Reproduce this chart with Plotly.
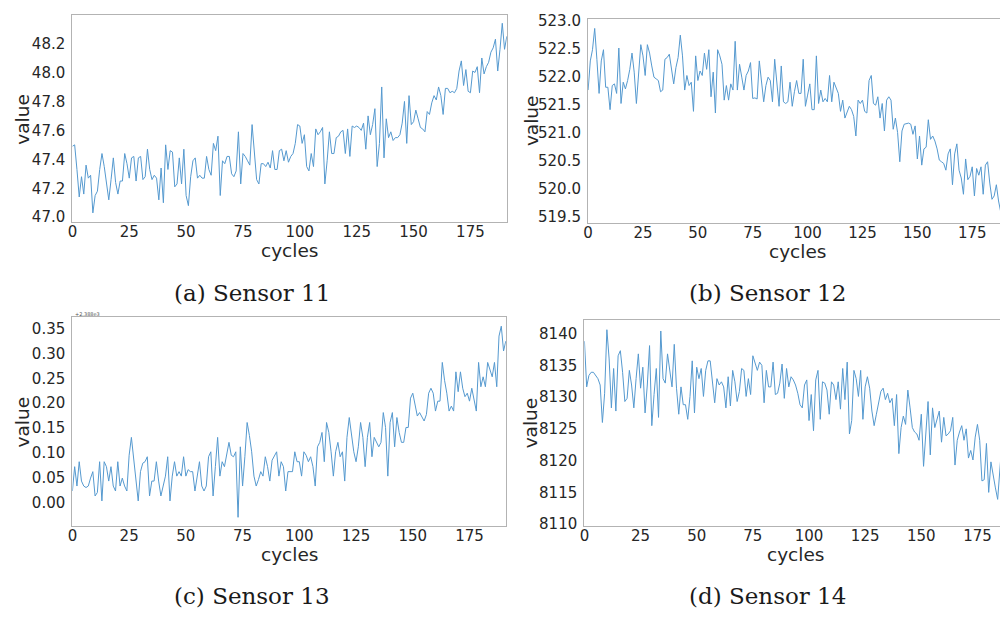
import plotly.graph_objects as go

# The page body has an 8px margin; the figure is sized so it fills the
# 1008x621 window exactly from (8, 8).
OFF = 8
W, H = 1008 - OFF, 621 - OFF

# ---------------- data ----------------
sensor11 = [
    47.49, 47.50, 47.33, 47.14, 47.28, 47.16, 47.36, 47.27, 47.29, 47.03,
    47.15, 47.18, 47.33, 47.44, 47.35, 47.24, 47.12, 47.26, 47.41, 47.24,
    47.16, 47.25, 47.25, 47.44, 47.37, 47.27, 47.41, 47.42, 47.25, 47.41,
    47.42, 47.26, 47.28, 47.47, 47.33, 47.26, 47.29, 47.27, 47.12, 47.34,
    47.10, 47.50, 47.33, 47.46, 47.45, 47.21, 47.23, 47.41, 47.23, 47.47,
    47.15, 47.08, 47.28, 47.39, 47.41, 47.27, 47.29, 47.27, 47.27, 47.42,
    47.33, 47.29, 47.51, 47.46, 47.56, 47.15, 47.39, 47.37, 47.42, 47.42,
    47.30, 47.28, 47.32, 47.59, 47.23, 47.44, 47.42, 47.39, 47.36, 47.64,
    47.46, 47.26, 47.23, 47.37, 47.37, 47.35, 47.38, 47.34, 47.46, 47.33,
    47.33, 47.46, 47.47, 47.39, 47.46, 47.38, 47.42, 47.44, 47.51, 47.64,
    47.63, 47.51, 47.57, 47.35, 47.32, 47.44, 47.35, 47.61, 47.57, 47.59,
    47.62, 47.23, 47.39, 47.59, 47.44, 47.44, 47.55, 47.56, 47.59, 47.60,
    47.44, 47.61, 47.42, 47.63, 47.62, 47.63, 47.62, 47.60, 47.65, 47.47,
    47.70, 47.57, 47.64, 47.75, 47.35, 47.51, 47.90, 47.41, 47.68, 47.55,
    47.59, 47.53, 47.55, 47.55, 47.57, 47.65, 47.80, 47.51, 47.84, 47.64,
    47.66, 47.74, 47.68, 47.62, 47.61, 47.59, 47.73, 47.71, 47.79, 47.84,
    47.81, 47.90, 47.84, 47.71, 47.89, 47.89, 47.86, 47.87, 47.86, 47.89,
    48.01, 48.08, 47.91, 48.02, 47.87, 47.86, 48.01, 48.00, 48.04, 47.86,
    48.10, 47.99, 48.04, 48.07, 48.14, 48.17, 48.23, 48.01, 48.16, 48.34,
    48.16, 48.25,
]

sensor12 = [
    521.76, 522.28, 522.48, 522.86, 522.31, 521.70, 522.28, 522.48, 521.81, 521.81,
    521.41, 521.84, 521.87, 521.70, 522.51, 521.52, 521.90, 521.78, 521.93, 522.13,
    522.42, 522.08, 521.52, 522.13, 522.57, 522.37, 522.02, 522.57, 522.42, 522.19,
    521.99, 521.96, 521.93, 521.73, 521.76, 522.31, 522.34, 522.40, 522.10, 521.87,
    522.16, 522.34, 522.74, 522.37, 521.76, 522.02, 521.84, 521.90, 521.38, 522.37,
    521.93, 522.10, 522.02, 522.42, 522.13, 522.48, 521.64, 522.08, 521.35, 522.48,
    522.37, 522.22, 521.58, 521.84, 521.58, 521.87, 521.76, 522.63, 521.76, 522.22,
    521.99, 521.76, 522.02, 522.10, 522.25, 521.61, 521.62, 521.60, 522.28, 521.84,
    521.55, 521.84, 521.99, 521.93, 521.55, 522.31, 521.87, 521.47, 522.19, 521.55,
    521.52, 521.55, 521.90, 521.47, 521.73, 521.93, 521.70, 521.70, 522.31, 521.47,
    521.67, 521.87, 521.41, 521.41, 522.37, 521.52, 521.76, 521.55, 521.61, 521.55,
    522.02, 521.55, 521.90, 521.81, 521.70, 521.38, 521.58, 521.26, 521.35, 521.47,
    521.41, 521.29, 520.94, 521.58, 521.52, 521.58, 521.38, 521.35, 521.93, 522.02,
    521.52, 521.49, 521.64, 521.26, 521.52, 521.03, 521.58, 521.64, 521.58, 521.06,
    521.26, 521.00, 520.48, 521.03, 521.15, 521.16, 521.17, 521.15, 520.97, 521.12,
    520.53, 520.94, 520.42, 520.71, 520.74, 521.23, 520.88, 520.94, 520.85, 520.71,
    520.51, 520.48, 520.45, 520.33, 520.62, 520.71, 520.07, 520.62, 520.80, 520.33,
    520.19, 519.90, 520.53, 520.16, 520.22, 520.39, 519.87, 520.36, 520.24, 520.39,
    519.90, 520.42, 520.48, 520.10, 519.81, 519.87, 520.07, 519.78, 519.58, 519.78,
    519.63, 519.69,
]

# sensor 13 shown as offset from 2388 (axis offset text "+2.388e3")
sensor13 = [
    0.023, 0.072, 0.033, 0.082, 0.043, 0.033, 0.030, 0.033, 0.049, 0.062,
    0.013, 0.020, 0.082, 0.003, 0.082, 0.072, 0.043, 0.072, 0.033, 0.023,
    0.082, 0.033, 0.049, 0.033, 0.023, 0.095, 0.131, 0.089, 0.043, 0.003,
    0.062, 0.079, 0.082, 0.092, 0.013, 0.043, 0.043, 0.082, 0.043, 0.013,
    0.033, 0.053, 0.092, 0.003, 0.053, 0.082, 0.053, 0.062, 0.053, 0.092,
    0.053, 0.066, 0.062, 0.062, 0.023, 0.053, 0.082, 0.033, 0.023, 0.033,
    0.092, 0.102, 0.013, 0.072, 0.131, 0.053, 0.082, 0.072, 0.098, 0.121,
    0.095, 0.092, 0.102, -0.030, 0.112, 0.033, 0.092, 0.161, 0.135, 0.102,
    0.053, 0.033, 0.046, 0.062, 0.053, 0.092, 0.072, 0.043, 0.085, 0.095,
    0.102, 0.053, 0.082, 0.072, 0.023, 0.062, 0.062, 0.062, 0.102, 0.082,
    0.082, 0.053, 0.102, 0.095, 0.082, 0.092, 0.072, 0.033, 0.112, 0.121,
    0.141, 0.082, 0.161, 0.141, 0.102, 0.053, 0.102, 0.121, 0.092, 0.102,
    0.043, 0.131, 0.171, 0.131, 0.102, 0.082, 0.112, 0.161, 0.131, 0.072,
    0.131, 0.161, 0.092, 0.131, 0.121, 0.112, 0.121, 0.181, 0.151, 0.053,
    0.161, 0.181, 0.112, 0.171, 0.141, 0.121, 0.121, 0.151, 0.151, 0.210,
    0.220, 0.197, 0.174, 0.181, 0.171, 0.164, 0.177, 0.220, 0.230, 0.220,
    0.184, 0.204, 0.204, 0.282, 0.246, 0.220, 0.184, 0.194, 0.184, 0.263,
    0.223, 0.263, 0.230, 0.213, 0.220, 0.204, 0.230, 0.210, 0.184, 0.282,
    0.233, 0.253, 0.233, 0.282, 0.269, 0.253, 0.282, 0.233, 0.335, 0.355,
    0.305, 0.325,
]

sensor14 = [
    8138.8, 8131.6, 8133.4, 8133.9, 8133.9, 8133.4, 8132.9, 8131.9, 8126.0, 8130.6,
    8140.6, 8136.0, 8128.3, 8134.5, 8127.8, 8136.5, 8137.3, 8133.9, 8129.3, 8129.8,
    8134.2, 8131.9, 8128.3, 8132.9, 8136.8, 8131.4, 8134.7, 8127.5, 8131.9, 8138.1,
    8125.5, 8130.4, 8134.5, 8126.8, 8140.4, 8132.9, 8132.2, 8136.8, 8134.2, 8131.6,
    8138.3, 8131.4, 8127.3, 8131.6, 8128.8, 8128.8, 8126.5, 8130.1, 8135.7, 8127.5,
    8134.7, 8132.9, 8134.5, 8130.1, 8134.2, 8135.7, 8135.7, 8131.9, 8129.1, 8132.9,
    8131.9, 8132.4, 8131.6, 8128.3, 8133.2, 8128.6, 8134.2, 8132.4, 8129.3, 8130.9,
    8134.5, 8134.2, 8130.1, 8132.9, 8130.4, 8136.5, 8135.5, 8134.2, 8135.5, 8135.0,
    8129.1, 8134.2, 8131.6, 8131.6, 8135.5, 8130.4, 8130.6, 8132.2, 8135.2, 8129.8,
    8134.5, 8131.6, 8133.2, 8132.7, 8131.9, 8130.6, 8128.8, 8128.3, 8131.9, 8132.7,
    8126.3, 8130.4, 8124.7, 8132.7, 8134.2, 8126.5, 8132.4, 8132.2, 8131.1, 8127.3,
    8132.4, 8131.9, 8129.6, 8132.4, 8128.1, 8134.5, 8129.6, 8135.5, 8124.2, 8126.3,
    8134.2, 8132.9, 8130.1, 8134.2, 8126.5, 8131.6, 8133.2, 8131.4, 8127.8, 8125.5,
    8127.3, 8129.3, 8130.9, 8131.4, 8129.6, 8130.6, 8129.1, 8129.8, 8125.5, 8130.4,
    8121.1, 8125.2, 8127.0, 8125.7, 8131.1, 8128.3, 8125.2, 8124.5, 8124.2, 8123.2,
    8127.3, 8119.1, 8124.2, 8129.3, 8120.9, 8128.3, 8125.2, 8126.5, 8127.8, 8122.9,
    8126.8, 8123.9, 8124.2, 8124.7, 8126.8, 8119.3, 8123.2, 8124.5, 8125.5, 8123.2,
    8125.0, 8120.4, 8121.6, 8120.1, 8123.7, 8125.7, 8123.2, 8116.8, 8117.0, 8122.7,
    8115.0, 8119.8, 8117.5, 8115.7, 8113.9, 8119.6, 8123.4, 8115.7, 8117.8, 8117.0,
    8115.7, 8116.8,
]

x_ticks = [0, 25, 50, 75, 100, 125, 150, 175]
captions = ["(a) Sensor 11", "(b) Sensor 12", "(c) Sensor 13", "(d) Sensor 14"]
ticks11 = [47.0, 47.2, 47.4, 47.6, 47.8, 48.0, 48.2]
ticks12 = [519.5, 520.0, 520.5, 521.0, 521.5, 522.0, 522.5, 523.0]
ticks13 = [0.00, 0.05, 0.10, 0.15, 0.20, 0.25, 0.30, 0.35]
ticks14 = [8110, 8115, 8120, 8125, 8130, 8135, 8140]

# ---------------- layout helpers (window pixel -> paper fraction) ----------------
def fx(px):
    return min(max((px - OFF) / W, 0.0), 1.0)

def fy(py):
    return min(max(1 - (py - OFF) / H, 0.0), 1.0)

panels = [
    # series, (left, right, top, bottom) px, y range, y ticks, fmt, x range, full box
    (sensor11, (67.7, 504.3, 8.3, 220.0), [46.966, 48.395], ticks11, ".1f", [0, 191], True),
    (sensor12, (586.0, 1008.0, 11.7, 220.7), [519.39, 523.035], ticks12, ".1f", [0, 191.3], False),
    (sensor13, (67.7, 503.3, 317.3, 530.7), [-0.047, 0.373], ticks13, ".2f", [0, 191], True),
    (sensor14, (582.3, 1008.0, 320.0, 531.0), [8109.7, 8142.15], ticks14, "d", [0, 188.6], False),
]

LINE = "#5599cf"
SPINE = "#b3b3b3"
TXT = "#262626"
SANS = "DejaVu Sans"
SERIF = "DejaVu Serif"

fig = go.Figure()
layout = dict(
    width=W, height=H,
    margin=dict(l=0, r=0, t=0, b=0),
    paper_bgcolor="white", plot_bgcolor="white",
    showlegend=False,
)
annotations = []

for k, (vals, box, yr, yt, fmt, xr, full) in enumerate(panels):
    n = k + 1
    xa = "x" if n == 1 else f"x{n}"
    ya = "y" if n == 1 else f"y{n}"
    left, right, top, bottom = box
    fig.add_trace(go.Scatter(
        x=list(range(len(vals))), y=vals, mode="lines",
        line=dict(color=LINE, width=1),
        xaxis=xa, yaxis=ya, hoverinfo="skip",
    ))
    xkey = "xaxis" if n == 1 else f"xaxis{n}"
    ykey = "yaxis" if n == 1 else f"yaxis{n}"
    layout[xkey] = dict(
        domain=[fx(left), fx(right)], anchor=ya, range=xr,
        tickvals=x_ticks, ticktext=[str(t) for t in x_ticks],
        showgrid=False, zeroline=False,
        showline=True, linecolor=SPINE, linewidth=1.3, mirror=True,
        ticks="", ticklabelstandoff=-4,
        ticklabeloverflow="allow",
        tickfont=dict(family=SANS, size=15, color=TXT),
    )
    if fmt == "d":
        ytext = [str(int(t)) for t in yt]
    else:
        ytext = [format(t, fmt) for t in yt]
    layout[ykey] = dict(
        domain=[fy(bottom), fy(top)], anchor=xa, range=yr,
        tickvals=yt, ticktext=ytext,
        showgrid=False, zeroline=False,
        showline=True, linecolor=SPINE, linewidth=1.3, mirror=full,
        ticks="outside", ticklen=3, tickcolor="rgba(0,0,0,0)",
        ticklabeloverflow="allow",
        tickfont=dict(family=SANS, size=15, color=TXT),
    )
    cx = (left + min(right, 1007)) / 2
    # axis titles
    annotations.append(dict(
        text="cycles", x=fx(cx), y=fy(bottom + 29.5), xref="paper", yref="paper",
        xanchor="center", yanchor="middle", showarrow=False,
        font=dict(family=SANS, size=18.5, color=TXT),
    ))
    vx = 18 if left < 300 else 529
    annotations.append(dict(
        text="value", x=fx(vx), y=fy((top + bottom) / 2), xref="paper", yref="paper",
        xanchor="center", yanchor="middle", showarrow=False, textangle=-90,
        font=dict(family=SANS, size=18.5, color=TXT),
    ))

# captions
cap_pos = [(248, 293), (766, 293), (248, 603), (766, 603)]
for text, (cx, cy) in zip(captions, cap_pos):
    annotations.append(dict(
        text=text, x=fx(cx), y=fy(cy), xref="paper", yref="paper",
        xanchor="center", yanchor="middle", showarrow=False,
        font=dict(family=SERIF, size=23, color="#1a1a1a"),
    ))

# offset text of sensor 13 axis
annotations.append(dict(
    text="+2.388e3", x=fx(68), y=fy(314), xref="paper", yref="paper",
    xanchor="left", yanchor="middle", showarrow=False,
    font=dict(family=SANS, size=5, color="#555555"),
))

layout["annotations"] = annotations
fig.update_layout(**layout)
fig.write_html("out.html")
